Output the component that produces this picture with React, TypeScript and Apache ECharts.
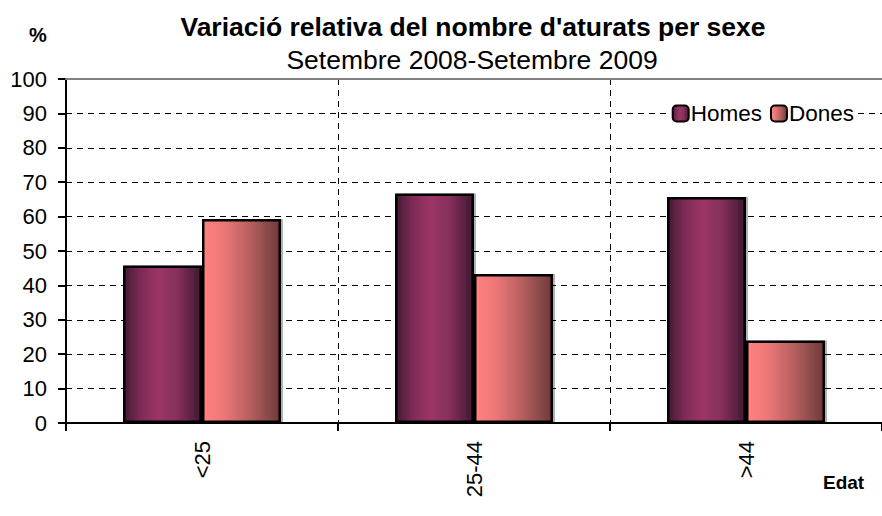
import React, { useEffect, useRef } from "react";
import * as echarts from "echarts";

const categories = ["<25", "25-44", ">44"];
const homes = [45.8, 66.7, 65.7];
const dones = [59.3, 43.3, 24.0];
const seriesNames = ["Homes", "Dones"];

export default function App() {
  const ref = useRef<HTMLDivElement>(null);
  useEffect(() => {
    if (!ref.current) return;
    const chart = echarts.init(ref.current, null, { renderer: "svg" });
    const font = "'Liberation Sans', Arial, sans-serif";
    const homesGrad = new echarts.graphic.LinearGradient(0, 0, 1, 0, [
      { offset: 0, color: "#451a30" },
      { offset: 0.2, color: "#7a2a55" },
      { offset: 0.45, color: "#9c3566" },
      { offset: 0.7, color: "#85305c" },
      { offset: 1, color: "#401830" },
    ]);
    const donesGrad = new echarts.graphic.LinearGradient(0, 0, 1, 0, [
      { offset: 0, color: "#ff8080" },
      { offset: 0.25, color: "#f07878" },
      { offset: 0.6, color: "#b86060" },
      { offset: 1, color: "#6e3a3a" },
    ]);
    chart.setOption({
      animation: false,
      backgroundColor: "#fff",
      textStyle: { fontFamily: font },
      title: [
        {
          text: "Variació relativa del nombre d'aturats per sexe",
          left: 468,
          top: 8,
          textAlign: "center",
          textStyle: { fontSize: 26.5, fontWeight: "bold", color: "#000", fontFamily: font },
        },
        {
          text: "Setembre 2008-Setembre 2009",
          left: 467,
          top: 41,
          textAlign: "center",
          textStyle: { fontSize: 26.5, fontWeight: "normal", color: "#000", fontFamily: font },
        },
        {
          text: "%",
          left: 24,
          top: 20,
          textStyle: { fontSize: 20, fontWeight: "bold", color: "#000", fontFamily: font },
        },
        {
          text: "Edat",
          left: 818,
          top: 468,
          textStyle: { fontSize: 19, fontWeight: "bold", color: "#000", fontFamily: font },
        },
      ],
      legend: {
        data: seriesNames,
        right: 24,
        top: 98,
        itemWidth: 16,
        itemHeight: 16,
        itemGap: 8,
        backgroundColor: "#fff",
        padding: [4, 4],
        textStyle: { fontSize: 22.5, color: "#000", fontFamily: font, padding: [0, 0, 0, -3] },
        itemStyle: { borderColor: "#000", borderWidth: 2 },
      },
      grid: { left: 66, top: 79, width: 818, height: 344, containLabel: false },
      xAxis: [
        {
          type: "category",
          data: categories,
          axisLine: { lineStyle: { color: "#000", width: 2 } },
          axisTick: { show: true, length: 8, lineStyle: { color: "#000", width: 2 } },
          axisLabel: { rotate: 90, fontSize: 22, color: "#000", margin: 18, fontFamily: font },
          splitLine: { show: true, lineStyle: { color: "#000", type: [6, 5], width: 1 } },
        },
        {
          type: "category",
          data: categories,
          position: "top",
          z: 5,
          axisLine: { show: true, lineStyle: { color: "#808080", width: 2 } },
          axisTick: { show: false },
          axisLabel: { show: false },
          splitLine: { show: false },
        },
      ],
      yAxis: {
        type: "value",
        min: 0,
        max: 100,
        interval: 10,
        axisLine: { show: true, lineStyle: { color: "#000", width: 2 } },
        axisTick: { show: true, length: 8, lineStyle: { color: "#000", width: 2 } },
        axisLabel: { fontSize: 22, color: "#000", margin: 19, fontFamily: font },
        splitLine: { show: true, lineStyle: { color: "#000", type: [6, 5], width: 1 } },
      },
      series: [
        {
          name: seriesNames[0],
          type: "bar",
          data: homes,
          barWidth: 79,
          barGap: "0%",
          itemStyle: {
            color: homesGrad,
            borderColor: "#000",
            borderWidth: 2.5,
            shadowColor: "rgba(0,0,0,0.3)",
            shadowOffsetX: 2,
            shadowOffsetY: 0,
            shadowBlur: 0,
          },
        },
        {
          name: seriesNames[1],
          type: "bar",
          data: dones,
          barWidth: 79,
          itemStyle: {
            color: donesGrad,
            borderColor: "#000",
            borderWidth: 2.5,
            shadowColor: "rgba(0,0,0,0.3)",
            shadowOffsetX: 2,
            shadowOffsetY: 0,
            shadowBlur: 0,
          },
        },
      ],
    });
    return () => chart.dispose();
  }, []);
  return (
    <div
      ref={ref}
      style={{ position: "fixed", left: 0, top: 0, width: 882, height: 516 }}
    />
  );
}
